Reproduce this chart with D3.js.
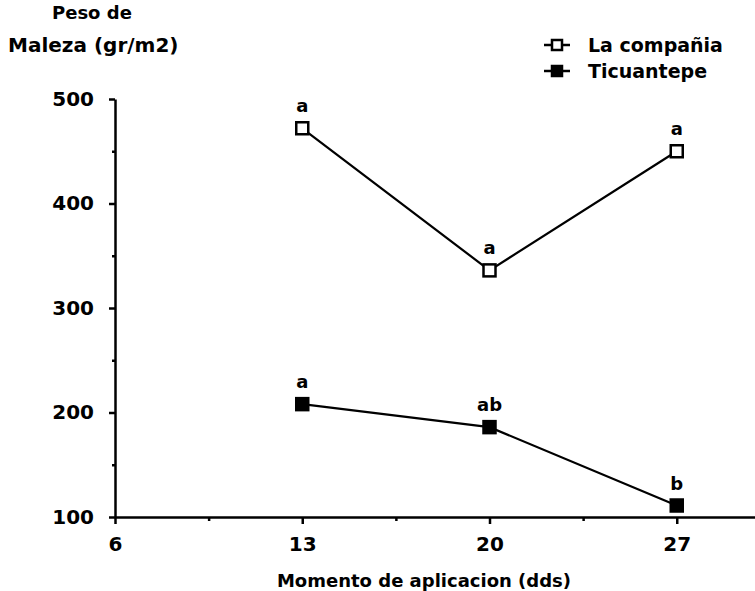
<!DOCTYPE html>
<html>
<head>
<meta charset="utf-8">
<script src="https://cdn.jsdelivr.net/npm/d3@7"></script>
<style>
  body { margin: 0; background: #fff; }
  text { font-family: "DejaVu Sans", sans-serif; font-weight: bold; fill: #000; }
</style>
</head>
<body>
<svg id="chart" width="755" height="591"></svg>
<script>
// Peso de maleza vs momento de aplicacion

var dias = [13, 20, 27];
var laCompania = [472, 336, 450];
var ticuantepe = [208, 186, 111];
var letrasCompania = ["a", "a", "a"];
var letrasTicuantepe = ["a", "ab", "b"];
var xTicks = [6, 13, 20, 27];
var xMinor = [9.5, 16.5, 23.5];
var yTicks = [100, 200, 300, 400, 500];
var yMinor = [150, 250, 350, 450];

var svg = d3.select("#chart");

var x = d3.scaleLinear().domain([6, 30]).range([115, 757]);
var y = d3.scaleLinear().domain([100, 500]).range([517, 99]);

// axes
var xAxis = svg.append("g")
    .attr("transform", "translate(0," + y(100) + ")")
    .call(d3.axisBottom(x).tickValues(xTicks).tickSize(7).tickSizeOuter(0).tickPadding(13));

svg.append("g")
    .attr("transform", "translate(0," + y(100) + ")")
    .call(d3.axisBottom(x).tickValues(xMinor).tickSize(4).tickSizeOuter(0).tickFormat(""))
    .select(".domain").remove();

var yAxis = svg.append("g")
    .attr("transform", "translate(" + x(6) + ",0)")
    .call(d3.axisLeft(y).tickValues(yTicks).tickSize(6).tickSizeOuter(0).tickPadding(15));

svg.append("g")
    .attr("transform", "translate(" + x(6) + ",0)")
    .call(d3.axisLeft(y).tickValues(yMinor).tickSize(3).tickSizeOuter(0).tickFormat(""))
    .select(".domain").remove();

svg.selectAll(".domain, .tick line")
    .attr("stroke", "#000")
    .attr("stroke-width", 2.5);

xAxis.selectAll("text").attr("font-size", "20px");
yAxis.selectAll("text").attr("font-size", "20px");

// titulos
svg.append("text").attr("x", 52).attr("y", 19).attr("font-size", "18px").text("Peso de");
svg.append("text").attr("x", 8).attr("y", 52).attr("font-size", "20px").text("Maleza (gr/m2)");
svg.append("text").attr("x", 424).attr("y", 587).attr("text-anchor", "middle")
    .attr("font-size", "18px").text("Momento de aplicacion (dds)");

var line = d3.line()
    .x(function (d, i) { return x(dias[i]); })
    .y(function (d) { return y(d); });

var series = [
    {name: "La compañia", values: laCompania, letras: letrasCompania, fill: "#fff", ly: 45},
    {name: "Ticuantepe", values: ticuantepe, letras: letrasTicuantepe, fill: "#000", ly: 71}
];

series.forEach(function (s) {
    svg.append("path")
        .datum(s.values)
        .attr("fill", "none")
        .attr("stroke", "#000")
        .attr("stroke-width", 2.2)
        .attr("d", line);

    svg.selectAll(null)
        .data(s.values)
        .enter().append("rect")
        .attr("x", function (d, i) { return x(dias[i]) - 6; })
        .attr("y", function (d) { return y(d) - 6; })
        .attr("width", 12)
        .attr("height", 12)
        .attr("fill", s.fill)
        .attr("stroke", "#000")
        .attr("stroke-width", 2.5);

    svg.selectAll(null)
        .data(s.values)
        .enter().append("text")
        .attr("x", function (d, i) { return x(dias[i]); })
        .attr("y", function (d) { return y(d) - 16; })
        .attr("text-anchor", "middle")
        .attr("font-size", "18px")
        .text(function (d, i) { return s.letras[i]; });

    // leyenda
    var lg = svg.append("g").attr("transform", "translate(557," + s.ly + ")");
    lg.append("line").attr("x1", -13).attr("x2", 13)
        .attr("stroke", "#000").attr("stroke-width", 2.5);
    lg.append("rect").attr("x", -5).attr("y", -5).attr("width", 10).attr("height", 10)
        .attr("fill", s.fill).attr("stroke", "#000").attr("stroke-width", 2.5);
    lg.append("text").attr("x", 31).attr("y", 7).attr("font-size", "19px").text(s.name);
});
</script>
</body>
</html>
